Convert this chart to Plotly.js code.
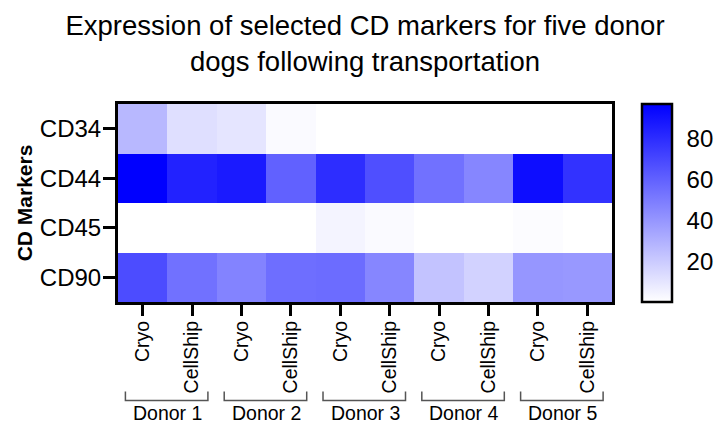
<!DOCTYPE html>
<html>
<head>
<meta charset="utf-8">
<script src="https://cdn.plot.ly/plotly-3.0.1.min.js"></script>
<style>html,body{margin:0;padding:0;background:#fff;}#chart{width:717px;height:425px;}</style>
</head>
<body>
<div id="chart"></div>
<script>
// Data
const markers = ["CD34", "CD44", "CD45", "CD90"];
const conditions = ["Cryo", "CellShip", "Cryo", "CellShip", "Cryo", "CellShip", "Cryo", "CellShip", "Cryo", "CellShip"];
const donors = ["Donor 1", "Donor 2", "Donor 3", "Donor 4", "Donor 5"];
const cd34 = [27, 12, 10, 2, 0, 0, 0, 0, 0, 0];
const cd44 = [97, 84, 87, 60, 80, 67, 54, 46, 92, 78];
const cd45 = [0, 0, 0, 0, 4, 2, 0, 0, 1, 0];
const cd90 = [68, 54, 47, 55, 56, 46, 23, 17, 40, 39];
const colorbarTicks = [20, 40, 60, 80];
const zMin = 0, zMax = 97;

const FONT = "Liberation Sans, Arial, Helvetica, sans-serif";
const xIdx = conditions.map((_, i) => i);

const W = 717, H = 425;
const M = {l: 118, r: 105, t: 104, b: 123};
const plotW = W - M.l - M.r;
const cbX = 1.0607, cbThick = 30;

const trace = {
  type: "heatmap",
  x: xIdx,
  y: markers,
  z: [cd34, cd44, cd45, cd90],
  zmin: zMin,
  zmax: zMax,
  colorscale: [[0, "#ffffff"], [1, "#0000ff"]],
  colorbar: {
    x: cbX, xanchor: "left", xref: "paper",
    y: 0.5, yanchor: "middle",
    len: 1, lenmode: "fraction",
    thickness: cbThick, thicknessmode: "pixels",
    xpad: 0, ypad: 0,
    outlinewidth: 2.5, outlinecolor: "#000",
    tickmode: "array", tickvals: colorbarTicks,
    ticks: "outside", ticklen: 9, tickcolor: "rgba(0,0,0,0)",
    tickfont: {family: FONT, size: 24, color: "#000"}
  }
};

const shapes = [];
const annotations = [];
donors.forEach((d, k) => {
  const a = 2 * k - 0.35, b = 2 * k + 1.32;
  shapes.push({
    type: "path", xref: "x", yref: "paper",
    path: `M ${a} -0.452 L ${a} -0.497 L ${b} -0.497 L ${b} -0.452`,
    line: {color: "#555", width: 1.5}
  });
  annotations.push({
    text: d, xref: "x", yref: "paper", x: 2 * k + 0.5, y: -0.563,
    xanchor: "center", yanchor: "middle", showarrow: false,
    font: {family: FONT, size: 19.5, color: "#000"}
  });
});
// small inner ticks on both edges of the colour bar
const cbL = cbX, cbR = cbX + cbThick / plotW, tk = 5 / plotW;
colorbarTicks.forEach(v => {
  const yy = (v - zMin) / (zMax - zMin);
  shapes.push({type: "line", xref: "paper", yref: "paper", x0: cbL, x1: cbL + tk, y0: yy, y1: yy, line: {color: "#000", width: 2}});
  shapes.push({type: "line", xref: "paper", yref: "paper", x0: cbR - tk, x1: cbR, y0: yy, y1: yy, line: {color: "#000", width: 2}});
});

const layout = {
  width: W, height: H,
  margin: {l: M.l, r: M.r, t: M.t, b: M.b, pad: 0, autoexpand: false},
  paper_bgcolor: "#fff", plot_bgcolor: "#fff",
  font: {family: FONT, color: "#000"},
  title: {
    text: "Expression of selected CD markers for five donor<br>dogs following transportation",
    font: {family: FONT, size: 27.5, color: "#000"},
    x: 0.5, xref: "paper", xanchor: "center",
    y: 0.918, yref: "container", yanchor: "top"
  },
  xaxis: {
    tickmode: "array", tickvals: xIdx, ticktext: conditions,
    tickangle: -90, range: [-0.5, 9.5],
    ticks: "outside", ticklen: 11, tickwidth: 3, tickcolor: "#000",
    ticklabelstandoff: -3,
    showline: true, linewidth: 3, linecolor: "#000", mirror: true,
    showgrid: false, zeroline: false,
    tickfont: {family: FONT, size: 19.5, color: "#000"}
  },
  yaxis: {
    type: "category", autorange: "reversed",
    ticks: "outside", ticklen: 12, tickwidth: 3, tickcolor: "#000",
    ticklabelstandoff: -3,
    showline: true, linewidth: 3, linecolor: "#000", mirror: true,
    showgrid: false, zeroline: false,
    tickfont: {family: FONT, size: 24, color: "#000"},
    title: {text: "<b>CD Markers</b>", font: {family: FONT, size: 21, color: "#000"}, standoff: 2}
  },
  shapes: shapes,
  annotations: annotations
};

Plotly.newPlot("chart", [trace], layout, {displayModeBar: false, staticPlot: true});
</script>
</body>
</html>
